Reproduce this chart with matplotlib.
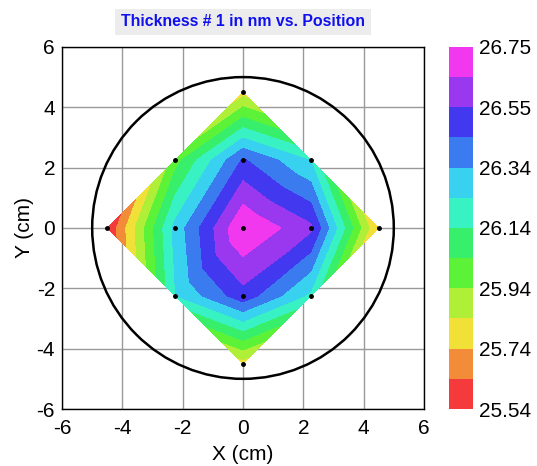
import numpy as np
import matplotlib
matplotlib.use("Agg")
import matplotlib.pyplot as plt
import matplotlib.tri as mtri
from matplotlib.colors import ListedColormap, BoundaryNorm

plt.rcParams['font.family'] = ['Liberation Sans', 'DejaVu Sans']
plt.rcParams['axes.unicode_minus'] = False

# measurement sites (cm) and thickness (nm)
x_pos = [0.0, -2.25, 0.0, 2.25, -4.5, -2.25, 0.0, 2.25, 4.5, -2.25, 0.0, 2.25, 0.0]
y_pos = [4.5, 2.25, 2.25, 2.25, 0.0, 0.0, 0.0, 0.0, 0.0, -2.25, -2.25, -2.25, -4.5]
thickness = [25.80, 26.00, 26.46, 26.24, 25.54, 26.28, 26.75, 26.57, 25.72, 26.24, 26.51, 26.22, 25.80]

# mesh: every inner square split along the same (/) diagonal, plus the edge triangles
triangles = [[1, 2, 5], [2, 5, 6], [6, 2, 3], [6, 3, 7], [6, 5, 9], [6, 9, 10], [6, 7, 10], [7, 10, 11],
             [0, 1, 2], [0, 2, 3], [4, 1, 5], [4, 5, 9], [8, 3, 7], [8, 7, 11], [12, 9, 10], [12, 10, 11]]

levels = np.linspace(25.54, 26.75, 13)
cbar_labels = ['25.54', '25.74', '25.94', '26.14', '26.34', '26.55', '26.75']
band_colors = ['#f43a3a', '#f28c38', '#f0e038', '#b0ef38', '#5cf238', '#38ef6c',
               '#38f2c4', '#38d2f0', '#3a7cf0', '#4238f0', '#9a38ef', '#f238ef']

cmap = ListedColormap(band_colors)
norm = BoundaryNorm(levels, cmap.N)

fig = plt.figure(figsize=(5.37, 4.66), dpi=100)
ax = fig.add_axes([0.1155, 0.1223, 0.674, 0.777])
cax = fig.add_axes([0.836, 0.1223, 0.045, 0.777])

tri = mtri.Triangulation(x_pos, y_pos, triangles)
cf = ax.tricontourf(tri, thickness, levels=levels, cmap=cmap, norm=norm, zorder=2)
ax.plot(x_pos, y_pos, 'o', color='black', markersize=2.5, zorder=4)

wafer = plt.Circle((0, 0), 5.0, fill=False, color='black', lw=1.8, zorder=3)
ax.add_patch(wafer)

ax.set_xlim(-6, 6)
ax.set_ylim(-6, 6)
ax.set_xticks(range(-6, 7, 2))
ax.set_yticks(range(-6, 7, 2))
ax.grid(True, color='#999999', lw=1.0, zorder=1)
ax.set_axisbelow(True)
ax.tick_params(length=0, labelsize=15)
ax.tick_params(axis='x', pad=7)
ax.tick_params(axis='y', pad=5)
for s in ax.spines.values():
    s.set_linewidth(1.0)
ax.set_xlabel('X (cm)', fontsize=15, labelpad=5)
ax.set_ylabel('Y (cm)', fontsize=15, labelpad=2)

ax.set_title('Thickness # 1 in nm vs. Position', fontsize=11.4, fontweight='bold',
             color='#1010ee', pad=15,
             bbox=dict(facecolor='#ececec', edgecolor='none', pad=4))

cb = fig.colorbar(cf, cax=cax, ticks=levels[::2])
cb.ax.set_yticklabels(cbar_labels)
cb.ax.minorticks_off()
cb.outline.set_visible(False)
cb.ax.tick_params(which='both', length=0, labelsize=15, pad=4)

fig.savefig('out.png', dpi=100)
